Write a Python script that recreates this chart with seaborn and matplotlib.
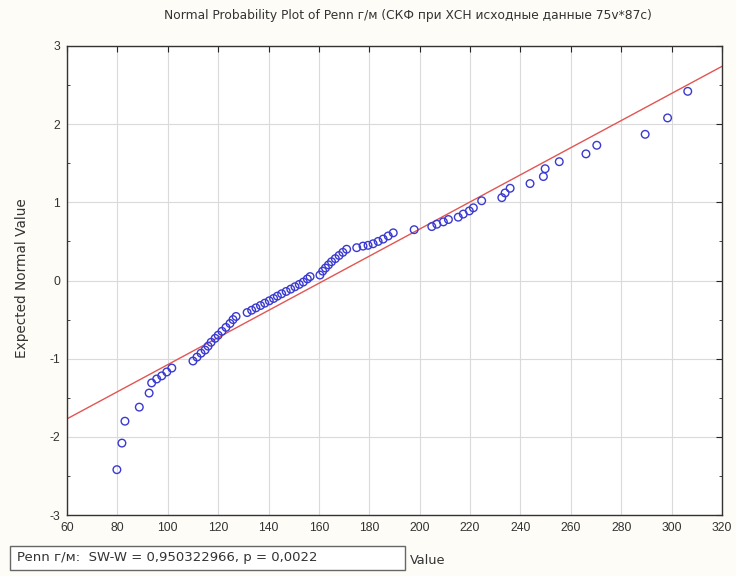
import matplotlib
matplotlib.use("Agg")
import matplotlib.pyplot as plt
import seaborn as sns
from matplotlib.patches import Rectangle
from matplotlib.ticker import MultipleLocator

# ---- data ----
values = [79.8, 81.8, 83.0, 88.7, 92.6, 93.6, 95.6, 97.6, 99.6, 101.6,
          110.0, 111.6, 113.2, 114.8, 116.0, 117.2, 118.8, 120.0, 121.5, 123.1,
          124.7, 125.9, 127.1,
          131.5, 133.3, 135.0, 136.8, 138.5, 140.3, 142.0, 143.5, 145.2, 147.0,
          148.8, 150.5, 152.2, 153.8, 155.4, 156.5,
          160.4, 161.5, 162.6, 163.8, 165.0, 166.5, 168.0, 169.5, 171.0,
          175.0, 177.5, 179.5, 181.5, 183.5, 185.5, 187.5, 189.5,
          197.8, 204.8, 206.8, 209.4, 211.4, 215.3, 217.3, 219.7, 221.3, 224.6,
          232.6, 233.9, 235.9, 243.8, 249.1, 249.8, 255.4, 266.0, 270.3,
          289.5, 298.4, 306.4]
expected = [-2.42, -2.08, -1.80, -1.62, -1.44, -1.31, -1.26, -1.22, -1.17, -1.12,
            -1.03, -0.98, -0.93, -0.89, -0.84, -0.79, -0.74, -0.70, -0.65, -0.60,
            -0.55, -0.50, -0.46,
            -0.41, -0.38, -0.35, -0.32, -0.29, -0.26, -0.23, -0.20, -0.17, -0.14,
            -0.11, -0.08, -0.05, -0.02, 0.02, 0.05,
            0.07, 0.12, 0.16, 0.20, 0.24, 0.28, 0.32, 0.36, 0.40,
            0.42, 0.44, 0.45, 0.47, 0.50, 0.53, 0.57, 0.61,
            0.65, 0.69, 0.72, 0.75, 0.78, 0.81, 0.85, 0.89, 0.93, 1.02,
            1.06, 1.12, 1.18, 1.24, 1.33, 1.43, 1.52, 1.62, 1.73,
            1.87, 2.08, 2.42]
fit_x = [60, 320]
fit_y = [-1.77, 2.74]
x_ticks = list(range(60, 321, 20))
y_ticks = [-3, -2, -1, 0, 1, 2, 3]

title = "Normal Probability Plot of Penn г/м (СКФ при ХСН исходные данные 75v*87c)"
stat_text = "Penn г/м:  SW-W = 0,950322966, p = 0,0022"

sns.set_style("white")
plt.rcParams["font.family"] = ["Liberation Sans", "DejaVu Sans"]
plt.rcParams["axes.unicode_minus"] = False
WIDE = ["DejaVu Sans"]
TXT = "#333333"

W, H = 736, 576
fig = plt.figure(figsize=(W / 100, H / 100), dpi=100, facecolor="#fdfcf6")
ax = fig.add_axes([67 / W, 1 - 515 / H, 655 / W, 469 / H])
ax.set_facecolor("white")

sns.lineplot(x=fit_x, y=fit_y, ax=ax, color="#e25552", linewidth=1.0, zorder=2)
sns.scatterplot(x=values, y=expected, ax=ax, marker="o", s=30,
                facecolors="none", edgecolors="#3a3ad0", linewidth=1.0, zorder=3)

ax.set_xlim(60, 320)
ax.set_ylim(-3, 3)
ax.set_xticks(x_ticks)
ax.set_yticks(y_ticks)
ax.yaxis.set_minor_locator(MultipleLocator(0.5))
ax.grid(True, which="major", color="#dadada", linewidth=0.8)
ax.set_axisbelow(True)
ax.tick_params(which="major", direction="in", length=4, width=0.8,
               top=True, right=True, labelsize=8.7, labelcolor=TXT, pad=5)
ax.tick_params(which="minor", direction="in", length=2, width=0.6,
               left=True, right=True)
for sp in ax.spines.values():
    sp.set_color("#333333")
    sp.set_linewidth(1.0)
ax.set_xlabel("")
ax.set_ylabel("")

fig.text(408 / W, 1 - 16 / H, title, ha="center", va="center", fontsize=8.8,
         color=TXT, family=WIDE)
fig.text(22 / W, 1 - 278 / H, "Expected Normal Value", rotation=90,
         ha="center", va="center", fontsize=9.8, color=TXT, family=WIDE)
fig.text(410 / W, 1 - 560 / H, "Value", ha="left", va="center", fontsize=9.3,
         color=TXT, family=WIDE)

fig.patches.append(Rectangle((10 / W, 1 - 570 / H), 395 / W, 24 / H,
                             transform=fig.transFigure, facecolor="white",
                             edgecolor="#666666", linewidth=1.0))
fig.text(17 / W, 1 - 558 / H, stat_text, ha="left", va="center", fontsize=9.5,
         color=TXT, family=WIDE)

fig.savefig("out.png", dpi=100, facecolor=fig.get_facecolor())
